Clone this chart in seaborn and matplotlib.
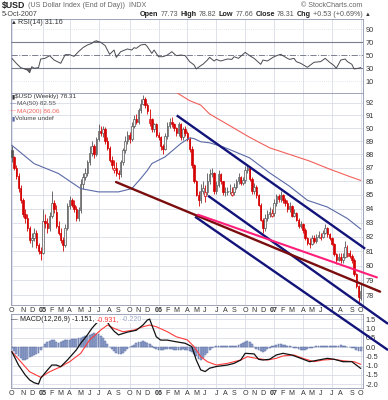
import numpy as np
import pandas as pd
import matplotlib
matplotlib.use("Agg")
import matplotlib.pyplot as plt
import matplotlib.ticker as mticker
import seaborn as sns

# weekly bars, Friday 1-Oct-2004 .. Friday 5-Oct-2007
first_week = "2004-10-01"

opens = [88.3, 87.8, 87.0, 86.4, 85.5, 84.6, 83.6, 83.3, 82.6, 81.8,
         81.9, 82.3, 81.4, 81.0, 80.9, 83.1, 83.0, 82.6, 83.5, 84.4,
         83.8, 82.8, 82.3, 81.8, 81.4, 82.6, 84.2, 84.6, 84.3, 84.0,
         83.3, 83.9, 85.8, 86.3, 86.6, 87.4, 88.1, 88.6, 88.0, 89.2,
         89.8, 89.6, 89.9, 89.0, 88.5, 87.6, 86.8, 87.0, 86.6, 86.5,
         87.4, 88.3, 89.0, 89.5, 89.2, 90.2, 90.7, 90.5, 91.4, 91.9,
         92.3, 91.8, 90.4, 90.7, 89.9, 90.3, 89.5, 89.3, 88.6, 88.4,
         89.4, 90.2, 90.5, 90.3, 90.0, 89.6, 90.3, 89.3, 89.9, 89.6,
         89.2, 88.4, 87.2, 86.0, 85.0, 84.6, 85.3, 84.9, 85.2, 86.0,
         86.5, 86.6, 85.3, 85.7, 86.5, 86.0, 85.2, 85.2, 85.3, 85.0,
         85.2, 85.6, 86.0, 86.3, 85.9, 86.1, 86.8, 87.0, 86.2, 85.3,
         85.6, 85.0, 84.3, 83.2, 82.6, 83.3, 83.6, 83.5, 83.7, 84.4,
         84.9, 84.7, 85.0, 84.6, 84.4, 84.0, 84.2, 83.5, 83.7, 83.2,
         82.8, 82.9, 82.5, 81.9, 81.6, 81.5, 81.9, 81.7, 82.0, 81.9,
         82.0, 82.3, 82.6, 82.2, 81.9, 81.5, 80.8, 80.4, 80.6, 80.4,
         80.6, 80.7, 80.9, 80.7, 80.4, 79.4, 78.6, 77.8]
highs = [88.6, 87.9, 87.2, 86.6, 85.7, 84.8, 84.0, 83.6, 82.8, 82.3,
         82.6, 82.5, 81.6, 81.3, 84.0, 83.6, 83.3, 83.8, 85.3, 84.6,
         84.3, 83.1, 82.6, 82.0, 82.9, 84.4, 84.9, 84.8, 84.6, 84.2,
         84.1, 86.2, 86.6, 87.0, 87.6, 88.6, 89.0, 88.8, 89.3, 90.3,
         90.2, 90.2, 90.1, 89.3, 88.6, 87.9, 87.6, 87.4, 86.8, 87.6,
         88.5, 89.4, 89.8, 89.7, 90.5, 91.0, 91.1, 91.6, 92.3, 92.6,
         92.4, 92.0, 91.5, 90.8, 90.4, 90.4, 89.7, 89.4, 88.8, 89.6,
         90.5, 90.8, 90.9, 90.4, 90.1, 90.5, 90.4, 90.1, 90.2, 89.8,
         89.3, 88.6, 87.3, 86.1, 85.3, 85.8, 86.0, 85.7, 86.6, 86.9,
         87.0, 86.7, 86.0, 86.8, 86.6, 86.0, 85.6, 85.6, 85.8, 85.6,
         85.9, 86.2, 86.6, 86.4, 86.3, 87.1, 87.3, 87.1, 86.3, 85.9,
         85.7, 85.1, 84.4, 83.3, 83.6, 83.9, 84.1, 84.0, 84.7, 85.1,
         85.1, 85.3, 85.1, 84.8, 84.6, 84.5, 84.3, 84.0, 83.8, 83.3,
         83.1, 83.0, 82.6, 82.0, 81.9, 82.1, 82.1, 82.2, 82.4, 82.3,
         82.5, 82.9, 82.7, 82.3, 82.0, 81.6, 80.9, 80.9, 80.9, 80.9,
         81.7, 81.4, 81.1, 80.8, 80.5, 79.5, 78.7, 78.8]
lows = [87.4, 86.8, 86.2, 85.2, 84.4, 83.4, 83.0, 82.4, 81.6, 81.3,
        81.7, 81.2, 80.8, 80.4, 80.8, 82.6, 82.3, 82.4, 83.3, 83.7,
        82.6, 82.1, 81.6, 81.0, 81.3, 82.5, 84.0, 84.1, 83.8, 83.1,
        83.1, 83.7, 85.4, 86.1, 86.4, 87.2, 87.9, 87.7, 87.9, 89.0,
        89.4, 89.3, 88.8, 88.3, 87.4, 86.9, 86.6, 86.4, 86.2, 86.3,
        87.2, 88.1, 88.8, 88.9, 89.0, 90.0, 90.3, 90.3, 91.2, 91.8,
        91.6, 91.1, 90.2, 89.7, 89.7, 89.3, 89.1, 88.3, 88.0, 88.3,
        89.2, 90.0, 90.1, 89.8, 89.4, 89.4, 89.1, 89.1, 89.4, 89.0,
        88.2, 87.0, 85.9, 84.9, 84.2, 84.4, 85.1, 84.5, 85.0, 85.8,
        86.3, 85.1, 85.1, 85.6, 85.8, 85.0, 84.9, 85.0, 85.1, 84.9,
        85.0, 85.4, 85.8, 85.7, 85.7, 85.9, 86.6, 86.0, 85.1, 85.1,
        84.8, 84.2, 83.1, 82.3, 82.4, 83.1, 83.4, 83.4, 83.5, 84.2,
        84.5, 84.5, 84.4, 84.2, 83.8, 83.8, 83.4, 83.4, 83.1, 82.6,
        82.6, 82.3, 81.8, 81.4, 81.2, 81.4, 81.6, 81.6, 81.9, 81.8,
        81.9, 82.2, 82.0, 81.8, 81.4, 80.7, 80.1, 80.3, 80.2, 80.2,
        80.5, 80.6, 80.5, 80.2, 79.3, 78.5, 77.4, 77.7]
closes = [87.8, 87.0, 86.4, 85.5, 84.6, 83.6, 83.3, 82.6, 81.8, 81.9,
          82.3, 81.4, 81.0, 80.9, 83.1, 83.0, 82.6, 83.5, 84.4, 84.0,
          82.8, 82.3, 81.8, 81.4, 82.6, 84.2, 84.6, 84.3, 84.0, 83.3,
          83.9, 85.8, 86.3, 86.6, 87.4, 88.1, 88.6, 88.0, 89.2, 89.8,
          89.6, 89.9, 89.0, 88.5, 87.6, 87.2, 87.0, 86.6, 86.5, 87.4,
          88.3, 89.0, 89.5, 89.2, 90.2, 90.7, 90.5, 91.4, 91.9, 92.3,
          91.8, 91.3, 90.7, 89.9, 90.3, 89.5, 89.3, 88.6, 88.4, 89.4,
          90.2, 90.5, 90.3, 90.0, 89.6, 90.3, 89.3, 89.9, 89.6, 89.2,
          88.4, 87.2, 86.0, 85.0, 84.6, 85.3, 85.5, 85.2, 86.0, 86.5,
          86.6, 85.3, 85.7, 86.5, 86.0, 85.2, 85.2, 85.3, 85.3, 85.2,
          85.6, 86.0, 86.3, 85.9, 86.1, 86.8, 87.0, 86.2, 85.3, 85.6,
          85.0, 84.3, 83.2, 82.6, 83.3, 83.6, 83.8, 83.7, 84.4, 84.9,
          84.7, 85.0, 84.6, 84.4, 84.0, 84.2, 83.5, 83.7, 83.2, 82.8,
          82.9, 82.5, 81.9, 81.6, 81.5, 81.9, 81.7, 82.0, 82.1, 82.0,
          82.3, 82.6, 82.2, 81.9, 81.5, 80.8, 80.4, 80.6, 80.4, 80.6,
          81.3, 80.9, 80.7, 80.4, 79.4, 78.6, 77.9, 78.31]

# moving averages (week number, value)
ma50_week = [0, 10, 21, 31, 39, 48, 54, 58, 61, 63, 69, 76, 80, 82, 85, 89, 95, 98,
             107, 116, 125, 133, 142, 151, 157]
ma50_val = [88.69, 87.31, 86.57, 85.46, 85.22, 85.22, 85.46, 86.2, 86.81, 87.31, 87.82,
            88.82, 89.26, 89.2, 88.96, 88.88, 88.57, 88.37, 87.74, 86.62, 85.63, 84.61,
            84.12, 83.3, 82.55]
ma200_week = [72, 74, 80, 85, 89, 95, 98, 107, 116, 125, 134, 143, 152, 157]
ma200_val = [93.3, 92.8, 92.15, 91.8, 91.1, 90.5, 90.2, 89.3, 88.5, 88.0, 87.5, 86.9,
             86.35, 86.06]

# RSI(14)
rsi_week = [0, 2, 4, 7, 8, 9, 10, 12, 13, 15, 17, 19, 22, 24, 26, 28, 30, 32, 34, 36,
            37, 38, 40, 42, 44, 46, 47, 49, 52, 54, 55, 56, 58, 60, 61, 63, 64, 66, 68,
            70, 72, 74, 76, 78, 80, 82, 83, 85, 86, 88, 89, 91, 92, 94, 97, 99, 100, 102,
            105, 107, 109, 112, 113, 115, 118, 120, 121, 124, 125, 127, 128, 130, 133,
            134, 136, 139, 141, 143, 145, 146, 147, 148, 150, 151, 153, 154, 156, 157]
rsi_val = [45.3, 37.6, 31.0, 27.4, 23.3, 32.5, 30.0, 31.0, 44.2, 45.3, 49.3, 42.6, 37.6,
           50.8, 50.8, 48.2, 55.4, 61.5, 65.6, 68.1, 70.7, 72.0, 69.7, 64.6, 51.3, 57.9,
           46.7, 55.4, 59.5, 57.9, 61.5, 60.5, 65.6, 66.6, 63.0, 52.8, 57.9, 47.7, 47.7,
           50.3, 55.4, 49.3, 50.3, 49.3, 40.2, 35.1, 29.0, 34.1, 36.1, 42.6, 46.7, 41.1,
           43.6, 41.1, 44.2, 43.6, 47.7, 45.2, 54.3, 49.3, 45.2, 36.1, 42.6, 41.1, 47.7,
           50.3, 51.3, 45.2, 43.6, 45.2, 40.2, 37.6, 31.5, 34.1, 39.2, 40.2, 45.2, 39.2,
           34.1, 30.0, 36.1, 42.6, 44.2, 40.2, 36.1, 29.0, 30.0, 31.16]

# MACD(12,26,9)
macd_week = [0, 3, 6, 8, 10, 12, 13, 16, 18, 20, 22, 25, 27, 29, 31, 34, 36, 38, 40, 42,
             44, 46, 48, 52, 56, 59, 61, 62, 63, 65, 67, 70, 74, 78, 81, 83, 85, 87, 89,
             92, 97, 100, 103, 105, 109, 111, 113, 116, 119, 122, 126, 130, 134, 138,
             142, 145, 149, 153, 155, 157]
macd_val = [-0.25, -0.97, -1.5, -1.77, -1.92, -1.99, -1.68, -1.24, -0.97, -0.97, -1.06,
            -0.7, -0.43, -0.16, 0.2, 0.65, 1.0, 1.27, 1.45, 1.55, 1.15, 0.85, 0.65, 0.8,
            0.9, 1.18, 1.45, 1.5, 1.18, 0.55, 0.37, 0.37, 0.28, 0.2, 0.02, -0.7, -1.23,
            -1.32, -1.14, -1.05, -0.97, -0.88, -0.7, -0.34, -0.37, -0.66, -0.7, -0.66,
            -0.43, -0.34, -0.43, -0.61, -0.79, -0.7, -0.61, -0.66, -0.79, -0.79, -0.97,
            -1.151]
signal_week = [0, 4, 8, 13, 17, 22, 26, 31, 35, 40, 43, 46, 50, 55, 59, 62, 65, 70, 74,
               79, 82, 85, 88, 92, 97, 103, 106, 110, 115, 119, 122, 127, 131, 136, 140,
               145, 149, 154, 157]
signal_val = [-0.25, -0.79, -1.33, -1.63, -1.33, -1.06, -0.79, -0.34, 0.38, 0.91, 1.18,
              1.0, 0.82, 0.91, 1.09, 1.18, 1.09, 0.82, 0.55, 0.38, 0.02, -0.52, -0.79,
              -0.97, -0.88, -0.7, -0.52, -0.61, -0.7, -0.61, -0.48, -0.43, -0.61, -0.79,
              -0.7, -0.66, -0.74, -0.79, -0.931]
hist_val = [-0.05, -0.2, -0.35, -0.5, -0.6, -0.68, -0.7, -0.65, -0.55, -0.5,
            -0.45, -0.38, -0.3, -0.15,
            0.0, 0.15, 0.25, 0.33, 0.37, 0.35, 0.28, 0.22, 0.25, 0.3,
            0.35, 0.38, 0.4, 0.42, 0.42, 0.45, 0.48, 0.5, 0.55, 0.58,
            0.6, 0.66, 0.72, 0.73, 0.72, 0.68, 0.6, 0.48, 0.32, 0.15, 0.0,
            -0.1, -0.2, -0.3, -0.35, -0.35, -0.3, -0.2, -0.1, -0.02,
            0.05, 0.12, 0.2, 0.26, 0.29, 0.3, 0.28, 0.22, 0.14, 0.05,
            -0.05, -0.1, -0.14, -0.16, -0.15, -0.12, -0.1, -0.1, -0.12, -0.14,
            -0.15, -0.15, -0.14, -0.13, -0.15, -0.18, -0.22, -0.28,
            -0.38, -0.5, -0.66, -0.7, -0.6, -0.45, -0.3,
            -0.15, -0.05, 0.0, 0.03, 0.05, 0.05, 0.04, 0.03, 0.05, 0.07, 0.08, 0.07, 0.06, 0.1,
            0.16, 0.22, 0.28, 0.3, 0.25, 0.15,
            0.02, -0.1, -0.18, -0.22, -0.25, -0.2, -0.12, -0.05,
            0.03, 0.08, 0.12, 0.15, 0.15, 0.12, 0.1, 0.06, 0.03, 0.0,
            -0.05, -0.08, -0.12, -0.14, -0.16, -0.15, -0.12, -0.08, -0.04,
            0.0, 0.03, 0.05, 0.06, 0.08, 0.07, 0.05, 0.03, 0.04, 0.05, 0.06,
            0.08, 0.1, 0.08, 0.05, 0.02, 0.0,
            -0.03, -0.08, -0.14, -0.2, -0.22]

# hand-drawn trendlines: (week, price) -> (week, price)
navy_lines = [((74.2, 90.99), (159.0, 81.17)),
              ((88.3, 84.94), (169.3, 76.11)),
              ((82.45, 83.43), (169.3, 74.42))]
maroon_line = ((46.9, 85.94), (165.7, 78.24))
pink_line = ((83.8, 83.57), (164.3, 79.20))

sns.set_theme(style="white")
plt.rcParams['font.family'] = ['Liberation Sans', 'DejaVu Sans']

n = len(closes)
wk = np.arange(n)
dates = pd.date_range(first_week, periods=n, freq="W-FRI")
o, h, l, c = map(np.array, (opens, highs, lows, closes))

W, H = 388, 400
fig = plt.figure(figsize=(W / 100, H / 100), dpi=100)
renderer = fig.canvas.get_renderer()


def box(x0, y0, x1, y1):
    return [x0 / W, 1 - y1 / H, (x1 - x0) / W, (y1 - y0) / H]


def ftext(x, y, s, **kw):
    return fig.text(x / W, 1 - y / H, s, va='center', **kw)


def run_text(x, y, pieces, gap=2.0):
    # lay out coloured pieces one after the other on a line
    for s, kw in pieces:
        t = ftext(x, y, s, **kw)
        x += t.get_window_extent(renderer).width + gap


ax_rsi = fig.add_axes(box(10.5, 19, 362.5, 93.3))
ax = fig.add_axes(box(10.5, 93.3, 362.5, 305))
ax_macd = fig.add_axes(box(10.5, 314, 362.5, 388))

# month ticks at the first bar of every month
firsts = pd.Series(wk, index=dates).groupby([dates.year, dates.month]).min()
tick_pos = list(firsts.values)
tick_lab = ['%02d' % (y % 100) if m == 1 else 'JFMAMJJASOND'[m - 1] for (y, m) in firsts.index]
quarter_pos = [p for p, (y, m) in zip(tick_pos, firsts.index) if m in (1, 4, 7, 10)]

grid_col = '#d9dce8'
for a in (ax_rsi, ax, ax_macd):
    a.set_xlim(-0.6, n - 0.2)
    for s in a.spines.values():
        s.set_color('#8f96ad')
        s.set_linewidth(0.6)
    a.yaxis.tick_right()
    a.tick_params(axis='y', length=0, pad=2.2, labelsize=5.3, labelcolor='#333')
    a.tick_params(axis='x', length=0, pad=1.2, labelsize=5.1, labelcolor='#333')
    for p in quarter_pos:
        a.axvline(p, color=grid_col, lw=0.6, zorder=0)
    a.set_xticks(tick_pos)
    a.set_xticklabels(tick_lab)

# ---- RSI panel
ax_rsi.set_ylim(-8.2, 105.3)
ax_rsi.set_yticks([10, 30, 50, 70, 90])
for lev in (10, 90):
    ax_rsi.axhline(lev, color=grid_col, lw=0.6, ls=(0, (1, 1.5)), zorder=0)
ax_rsi.axhline(70, color='#7a7f90', lw=0.8, zorder=1)
ax_rsi.axhline(30, color='#7a7f90', lw=0.8, zorder=1)
ax_rsi.axhline(50, color='#7a7f90', lw=0.7, ls='-.', zorder=1)
rv = np.array(rsi_val)
ax_rsi.fill_between(rsi_week, rv, 30, where=rv < 30, interpolate=True, color='#666', lw=0)
ax_rsi.fill_between(rsi_week, rv, 70, where=rv > 70, interpolate=True, color='#666', lw=0)
sns.lineplot(x=rsi_week, y=rsi_val, ax=ax_rsi, color='#4a4a52', linewidth=0.7)
ax_rsi.set_xticklabels([])
ax_rsi.set_xlabel('')
ax_rsi.set_ylabel('')

# ---- price panel (log scale)
ax.set_yscale('log')
ax.set_ylim(77.35, 92.73)
ax.set_yticks(list(range(78, 93)))
ax.set_yticklabels([str(v) for v in range(78, 93)])
ax.yaxis.set_minor_locator(mticker.NullLocator())
for v in range(78, 93):
    ax.axhline(v, color=grid_col, lw=0.6, zorder=0)

prev = np.concatenate([[c[0]], c[:-1]])
col = np.where(c < prev, '#d40000', '#555555')
ax.vlines(wk, l, h, colors=col, lw=0.6, zorder=2)
lo = np.minimum(o, c)
hi = np.maximum(o, c)
face = np.where(c < o, col, '#f4f4f4')
ax.bar(wk, hi - lo, bottom=lo, width=0.62, color=face, edgecolor=col, linewidth=0.5, zorder=3)

sns.lineplot(x=ma50_week, y=ma50_val, ax=ax, color='#5a6aa6', linewidth=0.8, zorder=4)
sns.lineplot(x=ma200_week, y=ma200_val, ax=ax, color='#f2605a', linewidth=0.8, zorder=4)

for (a0, a1) in navy_lines:
    ax.plot([a0[0], a1[0]], [a0[1], a1[1]], color='#12147a', lw=1.7, clip_on=False,
            zorder=6, solid_capstyle='butt')
ax.plot([maroon_line[0][0], maroon_line[1][0]], [maroon_line[0][1], maroon_line[1][1]],
        color='#7a0d0d', lw=1.7, clip_on=False, zorder=6)
ax.plot([pink_line[0][0], pink_line[1][0]], [pink_line[0][1], pink_line[1][1]],
        color='#ff1f7a', lw=1.5, clip_on=False, zorder=7)
ax.set_xlabel('')
ax.set_ylabel('')
for t, lab in zip(ax.get_xticklabels(), tick_lab):
    if lab.isdigit():
        t.set_fontweight('bold')

# ---- MACD panel
ax_macd.set_ylim(-2.204, 1.774)
mt = [-2.0, -1.5, -1.0, -0.5, 0.0, 0.5, 1.0, 1.5]
ax_macd.set_yticks(mt)
ax_macd.set_yticklabels(['%.1f' % v for v in mt])
for v in mt:
    ax_macd.axhline(v, color=grid_col, lw=0.6, zorder=0)
ax_macd.bar(wk, hist_val, width=0.85, color='#93a3cc', edgecolor='#5b6ea3', linewidth=0.35, zorder=2)
sns.lineplot(x=signal_week, y=signal_val, ax=ax_macd, color='#ff3b3b', linewidth=0.8, zorder=3)
sns.lineplot(x=macd_week, y=macd_val, ax=ax_macd, color='#111111', linewidth=0.9, zorder=4)
ax_macd.set_xlabel('')
ax_macd.set_ylabel('')
for t, lab in zip(ax_macd.get_xticklabels(), tick_lab):
    if lab.isdigit():
        t.set_fontweight('bold')

# stacking: trendlines of price panel cross into the MACD panel
ax_macd.set_zorder(1)
ax_rsi.set_zorder(1)
ax.set_zorder(3)

# ---- header and legends
small = dict(fontsize=5.1, color='#666')
run_text(2, 5.5, [("$USD", dict(fontsize=6.3, fontweight='bold', color='#222')),
                  ("(US Dollar Index (End of Day))  INDX", small)], gap=2.5)
ftext(362, 5.5, "\u00a9 StockCharts.com", ha='right', **small)
ftext(2, 14.5, "5-Oct-2007", fontsize=5.1, color='#444')
b = dict(fontsize=5.2, fontweight='bold', color='#222')
v = dict(fontsize=5.1, color='#555')
run_text(140, 14.5, [("Open", b), ("77.73", v), ("High", b), ("78.82", v), ("Low", b),
                     ("77.66", v), ("Close", b), ("78.31", v), ("Chg", b),
                     ("+0.53 (+0.69%)", v), ("\u25b2", dict(fontsize=4.2, color='#333'))],
         gap=2.2)

run_text(11, 23, [("\u25b2", dict(fontsize=4.2, color='#333')),
                  ("RSI(14) 31.16", dict(fontsize=5.1, color='#333'))], gap=1.2)

leg = dict(fontsize=4.6)
run_text(11, 96.6, [("\u25ae", dict(fontsize=4.2, color='#333')),
                    ("$USD (Weekly) 78.31", dict(color='#333', **leg))], gap=1.2)
run_text(10.5, 103.9, [("\u2014", dict(fontsize=4.2, color='#5a6aa6')),
                       ("MA(50) 82.55", dict(color='#555', **leg))], gap=0.6)
run_text(10.5, 111.2, [("\u2014", dict(fontsize=4.2, color='#f2605a')),
                       ("MA(200) 86.06", dict(color='#f2605a', **leg))], gap=0.6)
run_text(11, 118.5, [("\u25ae", dict(fontsize=4.2, color='#5a6aa6')),
                     ("Volume undef", dict(color='#444', **leg))], gap=1.2)

wb = dict(facecolor='white', edgecolor='none', pad=0.3)
run_text(11, 319.5, [("\u2014", dict(fontsize=4.6, color='#111')),
                     ("MACD(12,26,9) -1.151,", dict(fontsize=5.1, color='#222', bbox=wb)),
                     ("-0.931,", dict(fontsize=5.1, color='#ff3b3b', bbox=wb)),
                     ("-0.220", dict(fontsize=5.1, color='#9aa6c8', bbox=wb))], gap=2.5)

fig.savefig("out.png", dpi=100)
